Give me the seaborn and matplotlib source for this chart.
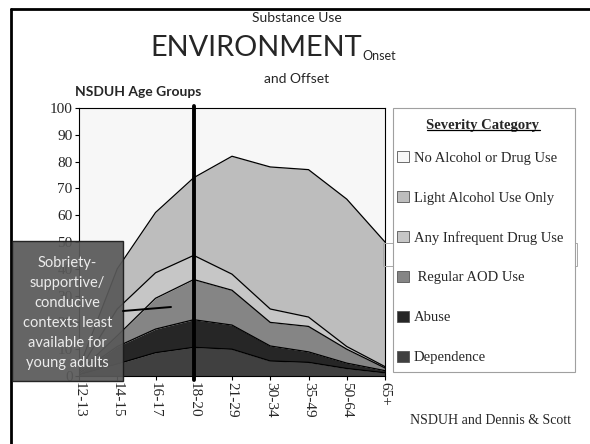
import numpy as np
import pandas as pd
import matplotlib
matplotlib.use("Agg")
import matplotlib.pyplot as plt
from matplotlib.patches import Patch, Rectangle
from matplotlib.lines import Line2D
import seaborn as sns

# ---------------- data ----------------
age_groups = ["12-13", "14-15", "16-17", "18-20", "21-29", "30-34", "35-49", "50-64", "65+"]
dependence = [0.5, 4.5, 8.7, 10.7, 10.0, 5.6, 5.1, 2.8, 1.2]
abuse = [0.5, 6.5, 8.8, 10.3, 9.0, 5.6, 3.9, 2.0, 0.8]
regular_aod = [0.5, 4.0, 11.5, 15.0, 13.0, 8.8, 9.5, 5.2, 1.0]
infrequent_drug = [0.5, 10.0, 9.5, 9.0, 6.0, 5.0, 3.5, 1.0, 0.5]
light_alcohol = [1.0, 15.0, 22.5, 29.0, 44.0, 53.0, 55.0, 55.0, 46.5]

layer_names = ["Dependence", "Abuse", "Regular AOD Use", "Any Infrequent Drug Use",
               "Light Alcohol Use Only"]
layer_colors = ["#404040", "#262626", "#858585", "#c6c6c6", "#bdbdbd"]
legend_labels = ["No Alcohol or Drug Use", "Light Alcohol Use Only", "Any Infrequent Drug Use",
                 " Regular AOD Use", "Abuse", "Dependence"]
legend_colors = ["#f7f7f7", "#bdbdbd", "#c6c6c6", "#858585", "#262626", "#404040"]
yticks = list(range(0, 101, 10))

# ---------------- figure ----------------
sns.set_theme(style="white")
plt.rcParams["font.family"] = ["Lato", "DejaVu Sans"]
serif = ["Liberation Serif", "DejaVu Serif"]

W, H = 590, 444
fig = plt.figure(figsize=(W / 100, H / 100), dpi=100)
fig.patch.set_facecolor("white")

def fx(px):
    return px / W

def fy(py):
    return 1 - py / H

ax = fig.add_axes([fx(79), fy(376), fx(385) - fx(79), fy(108) - fy(376)])
ax.set_facecolor("#f7f7f7")

x = np.arange(len(age_groups))
layers = [dependence, abuse, regular_aod, infrequent_drug, light_alcohol]
cum = np.cumsum(np.array(layers, dtype=float), axis=0)
lower = np.zeros(len(age_groups))
rows = []
for name, col, top in zip(layer_names, layer_colors, cum):
    ax.fill_between(x, lower, top, color=col, linewidth=0, zorder=1)
    lower = top
    for xi, v in zip(x, top):
        rows.append({"x": xi, "value": v, "layer": name})
df = pd.DataFrame(rows)
sns.lineplot(data=df, x="x", y="value", hue="layer", palette=["black"] * len(layer_names),
             linewidth=0.9, legend=False, ax=ax, zorder=2)

ax.set_xlim(0, len(age_groups) - 1)
ax.set_ylim(0, 100)
ax.set_xticks(x)
ax.set_xticklabels(age_groups, rotation=-90, family=serif, fontsize=11)
ax.set_yticks(yticks)
ax.set_yticklabels([str(v) for v in yticks], family=serif, fontsize=11)
ax.tick_params(axis="both", direction="out", length=3, width=0.8, color="black", pad=1.5,
               bottom=True, left=True)
ax.set_xlabel("")
ax.set_ylabel("")
for s in ax.spines.values():
    s.set_color("black")
    s.set_linewidth(0.8)

# thick vertical marker at 18-20
ax.plot([3, 3], [-1.5, 100.8], color="black", lw=2.8, clip_on=False, zorder=5)

# hidden box outline behind legend
fig.patches.append(Rectangle((fx(383), fy(266)), fx(577) - fx(383), fy(243) - fy(266),
                             transform=fig.transFigure, facecolor="none",
                             edgecolor="#a8a8a8", lw=0.7, zorder=0.5))

# legend frame + title
fig.patches.append(Rectangle((fx(393), fy(372)), fx(575) - fx(393), fy(108) - fy(372),
                             transform=fig.transFigure, facecolor="white",
                             edgecolor="#a0a0a0", lw=0.8, zorder=8))
t = fig.text(fx(483), fy(125), "Severity Category", ha="center", va="center",
             family=serif, fontsize=10.5, fontweight="bold", zorder=9)

handles = [Patch(facecolor=c, edgecolor="#555555", linewidth=0.6) for c in legend_colors]
leg = fig.legend(handles, legend_labels, loc="upper left",
                 bbox_to_anchor=(fx(397), fy(151)), borderaxespad=0,
                 prop={"family": serif, "size": 10.5}, frameon=False,
                 labelspacing=1.8, handlelength=0.8, handleheight=0.8,
                 handletextpad=0.35, borderpad=0)
leg.set_zorder(10)

# underline for legend title
fig.canvas.draw()
bb = t.get_window_extent().transformed(fig.transFigure.inverted())
fig.lines.append(Line2D([bb.x0, bb.x1], [bb.y0 + 0.004, bb.y0 + 0.004],
                        transform=fig.transFigure, color="black", lw=0.9, zorder=11))

# slide frame
fig.lines.append(Line2D([fx(11), 1.0], [fy(9), fy(9)], transform=fig.transFigure,
                        color="black", lw=2.0))
fig.lines.append(Line2D([fx(11), fx(11)], [fy(9), 0.0], transform=fig.transFigure,
                        color="black", lw=2.0))

# titles
fig.text(fx(297), fy(18), "Substance Use", ha="center", va="center", fontsize=10)
fig.text(fx(150), fy(48), "ENVIRONMENT", ha="left", va="center", fontsize=20.8)
fig.text(fx(362), fy(56), "Onset", ha="left", va="center", fontsize=9)
fig.text(fx(297), fy(79), "and Offset", ha="center", va="center", fontsize=10)
fig.text(fx(75), fy(92), "NSDUH Age Groups", ha="left", va="center", fontsize=10,
         fontweight="bold")
fig.text(fx(410), fy(420), "NSDUH and Dennis & Scott", ha="left", va="center",
         fontsize=10, family=serif)

# annotation box
fig.patches.append(Rectangle((fx(12), fy(381)), fx(123) - fx(12), fy(241) - fy(381),
                             transform=fig.transFigure, facecolor="#595959", alpha=0.93,
                             edgecolor="#1a1a1a", lw=1.0, zorder=20))
fig.text(fx(67.5), fy(313), "Sobriety-\nsupportive/\nconducive\ncontexts least\navailable for\nyoung adults",
         ha="center", va="center", color="#ececec", fontsize=10.5, linespacing=1.55, zorder=21)
fig.lines.append(Line2D([fx(123), fx(171)], [fy(311), fy(307)], transform=fig.transFigure,
                        color="black", lw=1.4, zorder=21))

fig.savefig("out.png", dpi=100)
